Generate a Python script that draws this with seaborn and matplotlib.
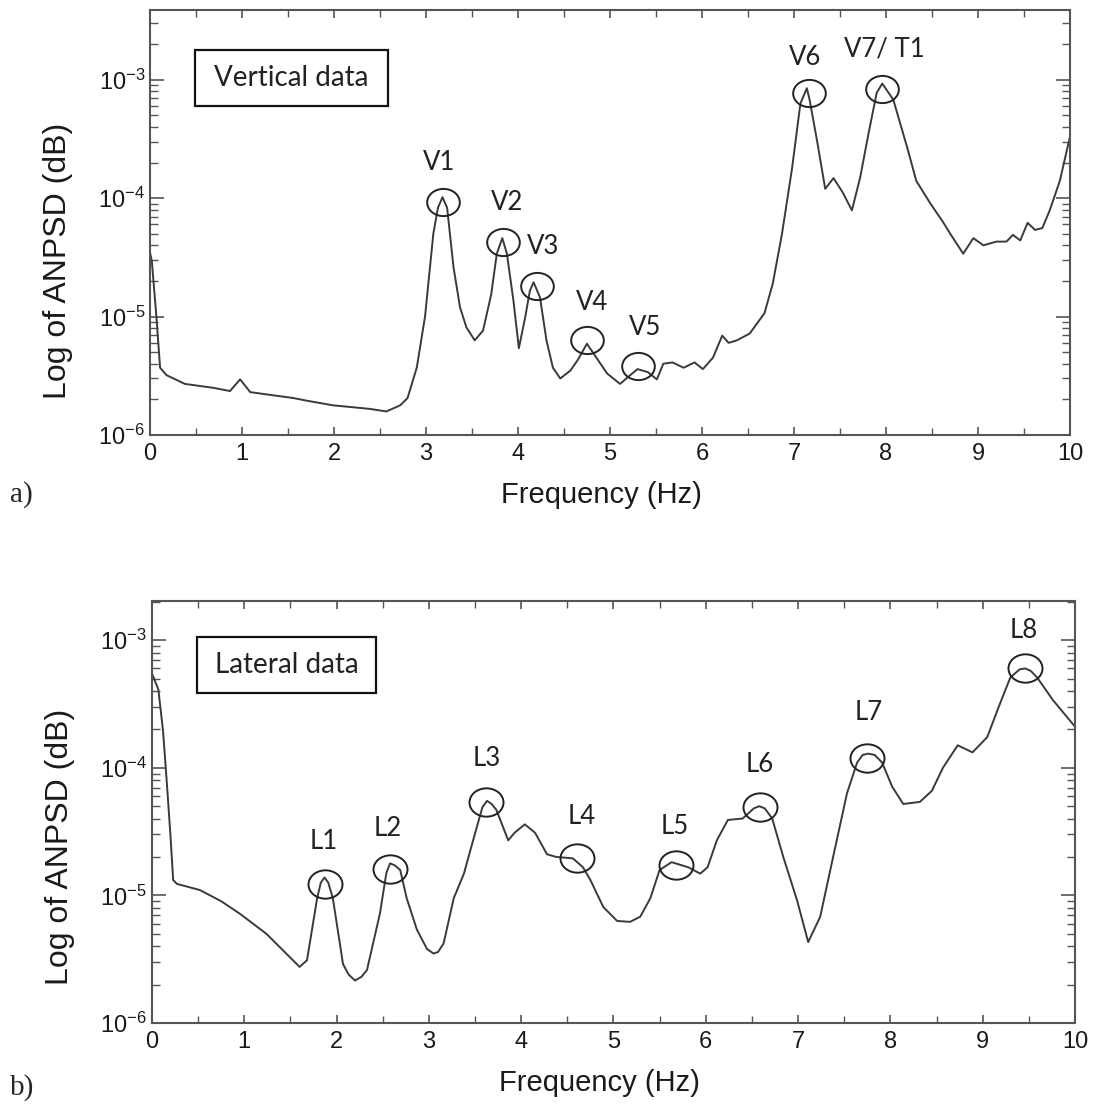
import numpy as np
import pandas as pd
import matplotlib
matplotlib.use("Agg")
import matplotlib.pyplot as plt
import seaborn as sns
from matplotlib.path import Path
from matplotlib.transforms import Affine2D
from matplotlib.patches import Rectangle
from matplotlib.ticker import MultipleLocator, LogLocator

# ---------------- data ----------------
vert_freq = [0.00, 0.02, 0.07, 0.11, 0.18, 0.38, 0.69, 0.87, 0.98, 1.09, 1.56, 1.70, 1.99, 2.39,
             2.57, 2.72, 2.80, 2.90, 2.99, 3.08, 3.13, 3.18, 3.23, 3.30, 3.37, 3.44, 3.53, 3.62,
             3.71, 3.77, 3.83, 3.88, 3.95, 4.01, 4.08, 4.13, 4.17, 4.24, 4.31, 4.38, 4.46, 4.57,
             4.65, 4.75, 4.82, 4.97, 5.11, 5.22, 5.30, 5.41, 5.51, 5.58, 5.68, 5.80, 5.92, 6.01,
             6.12, 6.22, 6.29, 6.38, 6.52, 6.68, 6.77, 6.87, 6.98, 7.07, 7.14, 7.17, 7.25, 7.34,
             7.43, 7.53, 7.63, 7.72, 7.81, 7.90, 7.96, 8.08, 8.23, 8.33, 8.48, 8.62, 8.70, 8.84,
             8.95, 9.06, 9.20, 9.31, 9.38, 9.46, 9.54, 9.62, 9.70, 9.78, 9.89, 10.0]
vert_psd = [3.5e-5, 2.95e-5, 1.0e-5, 3.7e-6, 3.2e-6, 2.7e-6, 2.5e-6, 2.35e-6, 2.95e-6, 2.3e-6,
            2.05e-6, 1.95e-6, 1.78e-6, 1.66e-6, 1.58e-6, 1.78e-6, 2.05e-6, 3.7e-6, 1.0e-5, 5.0e-5,
            8.3e-5, 1.02e-4, 8.3e-5, 2.6e-5, 1.2e-5, 8.1e-6, 6.3e-6, 7.6e-6, 1.55e-5, 3.4e-5,
            4.6e-5, 3.4e-5, 1.38e-5, 5.4e-6, 1.0e-5, 1.66e-5, 1.95e-5, 1.45e-5, 6.3e-6, 3.7e-6,
            3.0e-6, 3.5e-6, 4.3e-6, 5.9e-6, 4.9e-6, 3.3e-6, 2.7e-6, 3.2e-6, 3.6e-6, 3.4e-6,
            2.95e-6, 4.0e-6, 4.1e-6, 3.7e-6, 4.1e-6, 3.6e-6, 4.5e-6, 6.9e-6, 6.0e-6, 6.3e-6,
            7.2e-6, 1.07e-5, 1.9e-5, 5.0e-5, 1.8e-4, 6.3e-4, 8.5e-4, 6.8e-4, 3.1e-4, 1.2e-4,
            1.48e-4, 1.12e-4, 7.9e-5, 1.5e-4, 3.5e-4, 7.8e-4, 9.3e-4, 6.8e-4, 2.7e-4, 1.4e-4,
            9.1e-5, 6.3e-5, 5.0e-5, 3.4e-5, 4.6e-5, 4.0e-5, 4.3e-5, 4.3e-5, 4.9e-5, 4.4e-5,
            6.2e-5, 5.4e-5, 5.6e-5, 7.9e-5, 1.4e-4, 3.3e-4]

lat_freq = [0.00, 0.07, 0.12, 0.16, 0.20, 0.23, 0.27, 0.52, 0.75, 0.95, 1.24, 1.60, 1.68, 1.79,
            1.83, 1.87, 1.91, 1.96, 2.07, 2.13, 2.20, 2.27, 2.33, 2.47, 2.54, 2.58, 2.63, 2.69,
            2.76, 2.87, 2.98, 3.05, 3.10, 3.16, 3.27, 3.38, 3.46, 3.58, 3.63, 3.68, 3.73, 3.86,
            3.93, 4.04, 4.15, 4.28, 4.38, 4.56, 4.67, 4.75, 4.89, 5.04, 5.18, 5.29, 5.40, 5.50,
            5.63, 5.81, 5.94, 6.02, 6.12, 6.24, 6.40, 6.52, 6.58, 6.64, 6.72, 6.84, 6.99, 7.11,
            7.24, 7.38, 7.53, 7.64, 7.70, 7.76, 7.83, 7.91, 8.02, 8.14, 8.32, 8.45, 8.57, 8.73,
            8.89, 9.05, 9.17, 9.30, 9.40, 9.46, 9.52, 9.59, 9.76, 10.0]
lat_psd = [5.5e-4, 4.1e-4, 1.95e-4, 7.9e-5, 3.0e-5, 1.32e-5, 1.23e-5, 1.1e-5, 9.0e-6, 7.2e-6,
           5.0e-6, 2.75e-6, 3.1e-6, 9.5e-6, 1.26e-5, 1.38e-5, 1.26e-5, 9.5e-6, 2.9e-6, 2.4e-6,
           2.15e-6, 2.3e-6, 2.6e-6, 7.2e-6, 1.5e-5, 1.78e-5, 1.72e-5, 1.58e-5, 9.5e-6, 5.4e-6,
           3.8e-6, 3.5e-6, 3.6e-6, 4.2e-6, 9.5e-6, 1.48e-5, 2.4e-5, 4.9e-5, 5.5e-5, 5.2e-5,
           4.7e-5, 2.7e-5, 3.1e-5, 3.6e-5, 3.1e-5, 2.1e-5, 2.0e-5, 1.95e-5, 1.66e-5, 1.32e-5,
           8.1e-6, 6.3e-6, 6.2e-6, 6.8e-6, 9.5e-6, 1.58e-5, 1.82e-5, 1.66e-5, 1.48e-5, 1.66e-5,
           2.7e-5, 3.9e-5, 4.0e-5, 4.8e-5, 5.0e-5, 4.8e-5, 4.0e-5, 2.0e-5, 9.1e-6, 4.3e-6,
           6.8e-6, 2.0e-5, 6.3e-5, 1.1e-4, 1.26e-4, 1.29e-4, 1.26e-4, 1.1e-4, 7.1e-5, 5.2e-5,
           5.4e-5, 6.6e-5, 1.0e-4, 1.5e-4, 1.32e-4, 1.74e-4, 2.95e-4, 5.1e-4, 5.9e-4, 6.0e-4,
           5.75e-4, 5.1e-4, 3.4e-4, 2.1e-4]

# circled peaks
vert_labels = ["V1", "V2", "V3", "V4", "V5", "V6", "V7/ T1"]
vert_peak_freq = [3.18, 3.84, 4.21, 4.75, 5.30, 7.16, 7.96]
vert_peak_psd = [9.3e-5, 4.3e-5, 1.8e-5, 6.3e-6, 3.8e-6, 7.8e-4, 8.3e-4]

lat_labels = ["L1", "L2", "L3", "L4", "L5", "L6", "L7", "L8"]
lat_peak_freq = [1.87, 2.58, 3.62, 4.60, 5.68, 6.59, 7.75, 9.46]
lat_peak_psd = [1.23e-5, 1.6e-5, 5.4e-5, 1.95e-5, 1.73e-5, 4.9e-5, 1.2e-4, 6.1e-4]

# label offsets from circle centre (pixels)
vert_offsets = [(-3, 39), (4, 39), (6, 40), (5, 38), (8, 39), (-4, 35), (2, 40)]
lat_offsets = [(-1, 42), (-2, 41), (1, 43), (5, 42), (-1, 38), (0, 43), (1, 45), (-1, 37)]

# ---------------- style ----------------
sns.set_style("ticks")
plt.rcParams['font.family'] = ['Liberation Sans', 'DejaVu Sans']
plt.rcParams['mathtext.fontset'] = 'custom'
plt.rcParams['mathtext.rm'] = 'Liberation Sans'

spine_col = "#555555"
line_col = "#3a3a3a"
text_col = "#222222"
callout_font = ["Lato", "DejaVu Sans"]

ellipse = Path.unit_circle().transformed(Affine2D().scale(1.2, 1.0))

fig = plt.figure(figsize=(10.93, 11.13), dpi=100)
ax_top = fig.add_axes([0.1372, 0.6092, 0.8417, 0.3819])
ax_bot = fig.add_axes([0.1390, 0.0809, 0.8445, 0.3792])


def style_axis(ax, ytop, xlab_pos, ylab_pos):
    ax.set_yscale("log")
    ax.set_xlim(0, 10)
    ax.set_ylim(1e-6, ytop)
    ax.xaxis.set_major_locator(MultipleLocator(1))
    ax.xaxis.set_minor_locator(MultipleLocator(0.5))
    ax.yaxis.set_major_locator(LogLocator(base=10, numticks=10))
    ax.yaxis.set_minor_locator(LogLocator(base=10, subs=np.arange(2, 10), numticks=10))
    ax.tick_params(axis="both", which="both", direction="in", top=True, right=True,
                   color=spine_col, labelcolor="#1a1a1a", labelsize=17)
    ax.tick_params(axis="y", which="major", length=10, width=1.2)
    ax.tick_params(axis="y", which="minor", length=6, width=1.0)
    ax.tick_params(axis="x", which="major", length=6, width=1.2, pad=6)
    ax.tick_params(axis="x", which="minor", length=5, width=1.0)
    for s in ax.spines.values():
        s.set_color(spine_col)
        s.set_linewidth(1.5)
    ax.set_xlabel("Frequency (Hz)", fontsize=21, va="center", color="#1a1a1a")
    ax.set_ylabel("Log of ANPSD (dB)", fontsize=23, va="center", color="#1a1a1a")
    ax.xaxis.set_label_coords(*xlab_pos)
    ax.yaxis.set_label_coords(*ylab_pos)


def draw_panel(ax, freq, psd, pk_f, pk_v, labels, offsets, ms):
    df = pd.DataFrame({"freq": freq, "psd": psd})
    sns.lineplot(data=df, x="freq", y="psd", ax=ax, color=line_col, linewidth=1.4,
                 estimator=None, sort=False)
    ax.plot(pk_f, pk_v, linestyle="none", marker=ellipse, ms=ms, mfc="none",
            mec="#222222", mew=1.4, zorder=4)
    for lab, f, v, off in zip(labels, pk_f, pk_v, offsets):
        ax.annotate(lab, (f, v), xytext=off, textcoords="offset pixels", ha="center",
                    va="center", fontsize=18.5, color=text_col, family=callout_font)


draw_panel(ax_top, vert_freq, vert_psd, vert_peak_freq, vert_peak_psd,
           vert_labels, vert_offsets, 23.5)
style_axis(ax_top, 3.9e-3, (0.491, -0.141), (-0.100, 0.41))

draw_panel(ax_bot, lat_freq, lat_psd, lat_peak_freq, lat_peak_psd,
           lat_labels, lat_offsets, 24.5)
style_axis(ax_bot, 2.03e-3, (0.485, -0.142), (-0.0997, 0.417))

# boxed titles
ax_top.add_patch(Rectangle((0.049, 0.774), 0.2098, 0.132, transform=ax_top.transAxes,
                           fill=False, ec="#111111", lw=1.6, zorder=5))
ax_top.text(0.154, 0.84, "Vertical data", transform=ax_top.transAxes, ha="center",
            va="center", fontsize=20, color=text_col, family=callout_font)
ax_bot.add_patch(Rectangle((0.0488, 0.782), 0.194, 0.133, transform=ax_bot.transAxes,
                           fill=False, ec="#111111", lw=1.6, zorder=5))
ax_bot.text(0.1457, 0.848, "Lateral data", transform=ax_bot.transAxes, ha="center",
            va="center", fontsize=20, color=text_col, family=callout_font)

# panel letters
fig.text(0.009, 1 - 495 / 1113, "a)", fontsize=21, va="center", ha="left",
         family=["Liberation Serif", "DejaVu Serif"])
fig.text(0.009, 1 - 1088 / 1113, "b)", fontsize=21, va="center", ha="left",
         family=["Liberation Serif", "DejaVu Serif"])

fig.savefig("out.png", dpi=100)
